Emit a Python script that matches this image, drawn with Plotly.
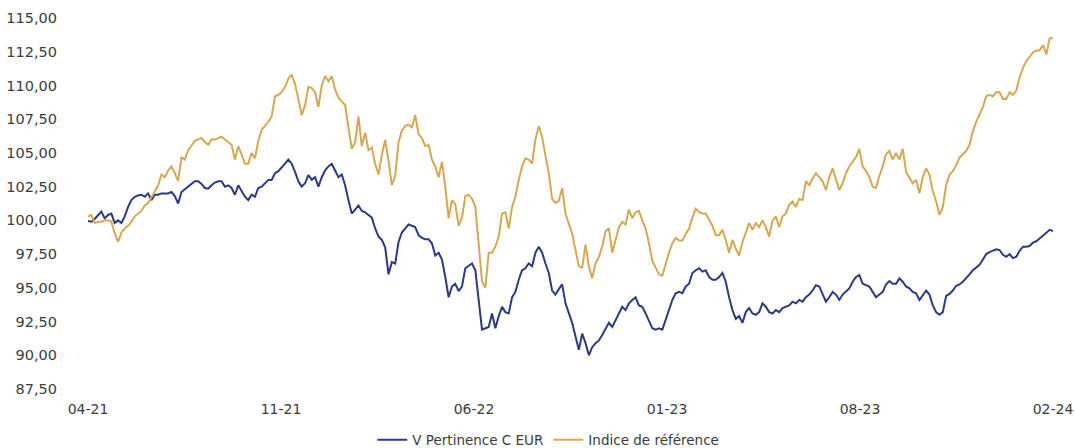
import plotly.graph_objects as go

fund_name = "V Pertinence C EUR"
index_name = "Indice de référence"
tick_labels = ["04-21", "11-21", "06-22", "01-23", "08-23", "02-24"]

fund_values = [
    99.95, 99.9, 100.1, 100.4, 100.65, 100.15, 100.4, 100.5, 99.8, 100.0,
    99.8, 100.3, 101.0, 101.5, 101.75, 101.85, 101.9, 101.75, 102.0, 101.5,
    101.9, 101.9, 102.0, 102.0, 102.0, 102.1, 101.8, 101.25, 102.1, 102.3,
    102.5, 102.7, 102.9, 102.9, 102.7, 102.4, 102.35, 102.6, 102.8, 102.9,
    102.9, 102.5, 102.6, 102.4, 101.9, 102.6, 102.2, 101.75, 101.5, 101.9,
    101.75, 102.4, 102.5, 102.75, 103.0, 103.0, 103.5, 103.65, 103.9, 104.2,
    104.5, 104.2, 103.6, 102.9, 102.5, 102.75, 103.35, 103.0, 103.2, 102.5,
    103.2, 103.7, 104.0, 104.2, 103.7, 103.2, 103.4, 102.6, 101.5, 100.5,
    100.8, 101.1, 100.7, 100.6, 100.4, 100.2, 99.4, 98.8, 98.55, 98.0,
    96.0, 96.9, 96.8, 98.4, 99.1, 99.4, 99.7, 99.6, 99.5, 98.9,
    98.7, 98.6, 98.6, 98.3, 97.4, 97.6, 97.1, 95.8, 94.3, 95.1,
    95.3, 94.75, 95.1, 96.45, 96.6, 96.8, 96.3, 94.3, 91.9, 92.0,
    92.1, 93.1, 92.0, 92.9, 93.6, 93.2, 93.1, 94.3, 94.7, 95.6,
    96.3, 96.45, 96.8, 96.6, 97.6, 98.05, 97.6, 96.8, 96.1, 94.8,
    94.5, 94.9, 95.25, 93.85, 93.2, 92.4, 91.4, 90.4, 91.6, 90.9,
    90.0, 90.6, 90.9, 91.1, 91.5, 91.9, 92.4, 92.1, 92.6, 93.1,
    93.6, 93.35, 93.85, 94.1, 94.3, 93.7, 93.6, 93.1, 92.6, 92.0,
    91.9, 92.0, 91.9, 92.6, 93.35, 94.1, 94.6, 94.7, 94.6, 95.1,
    95.3, 96.1, 96.3, 96.45, 96.2, 96.3, 95.8, 95.6, 95.6, 95.8,
    96.1, 95.45, 94.3, 93.35, 92.7, 92.9, 92.4, 93.2, 93.5, 93.1,
    93.0, 93.2, 93.85, 93.6, 93.2, 93.1, 93.35, 93.2, 93.5, 93.6,
    93.7, 93.97, 93.85, 94.1, 93.97, 94.3, 94.5, 94.8, 95.2, 95.1,
    94.5, 93.97, 94.3, 94.7, 94.5, 94.1, 94.5, 94.7, 94.96, 95.45,
    95.8, 95.95, 95.3, 95.2, 95.1, 94.7, 94.3, 94.5, 94.7, 95.25,
    95.5, 95.3, 95.3, 95.7, 95.45, 95.1, 94.96, 94.7, 94.6, 94.1,
    94.5, 94.8, 94.5, 93.7, 93.2, 93.0, 93.2, 94.4, 94.55, 94.8,
    95.15, 95.25, 95.45, 95.7, 96.0, 96.3, 96.5, 96.7, 97.1, 97.5,
    97.65, 97.75, 97.85, 97.8, 97.45, 97.3, 97.5, 97.2, 97.3, 97.75,
    98.05, 98.05, 98.1, 98.35, 98.45, 98.65, 98.85, 99.1, 99.3, 99.2,
]

index_values = [
    100.27, 100.4, 99.8, 99.9, 99.9, 100.0, 100.0, 99.9, 99.05, 98.4,
    99.1, 99.4, 99.6, 99.9, 100.3, 100.5, 100.7, 101.1, 101.3, 101.7,
    102.1, 102.6, 103.4, 103.2, 103.7, 104.0, 103.5, 102.9, 104.7, 104.5,
    105.2, 105.6, 105.9, 106.0, 106.1, 105.8, 105.6, 106.0, 106.0, 106.1,
    106.2, 106.0, 105.8, 105.6, 104.5, 105.5, 104.9, 104.2, 104.2, 105.0,
    104.6, 105.9, 106.7, 107.0, 107.3, 107.7, 109.2, 109.3, 109.5, 109.9,
    110.5, 110.8, 110.1, 109.0, 107.8, 108.5, 109.9, 109.8, 109.5, 108.4,
    110.0, 110.7, 110.3, 110.7, 109.7, 109.1, 108.8, 108.55, 106.9, 105.3,
    105.8, 107.7, 105.5, 106.5, 105.2, 105.4, 104.2, 103.4, 104.85, 105.96,
    104.4, 102.6, 103.3, 105.8, 106.65, 107.0, 107.1, 106.9, 107.8, 106.4,
    106.1, 105.5, 105.6, 104.5, 104.0, 103.2, 104.35, 102.5, 100.15, 101.5,
    101.2, 99.6, 100.2, 101.8, 101.9, 101.6, 101.0, 98.5, 95.5, 95.0,
    97.6, 97.6, 98.05, 98.8, 100.5, 100.6, 99.4, 101.0, 101.75, 103.0,
    104.0, 104.6, 104.5, 104.2, 106.0, 107.0, 106.2, 104.8, 103.5, 101.6,
    101.3, 101.45, 102.4, 100.5, 99.8, 99.0, 97.8, 96.6, 96.5, 98.2,
    96.6, 95.7, 96.8, 97.3, 98.05, 99.2, 99.4, 97.6, 98.55, 99.5,
    99.9, 99.7, 100.8, 100.15, 100.6, 100.7, 100.0, 99.4, 98.3, 97.0,
    96.5, 96.0, 95.9, 96.8, 97.6, 98.3, 98.7, 98.5, 98.5, 99.0,
    99.4, 100.2, 100.85, 100.6, 100.5, 100.5, 100.1, 99.6, 98.9, 98.9,
    99.3, 98.55, 97.6, 98.55, 97.9, 97.4, 98.4, 99.05, 99.8, 99.3,
    99.8, 99.5, 100.0, 99.5, 98.8, 100.0, 100.3, 99.5, 100.3, 100.5,
    101.15, 101.4, 101.0, 101.6, 101.5, 102.9, 102.6, 103.1, 103.5, 103.2,
    102.9, 102.25, 103.2, 103.85, 103.0, 102.25, 102.75, 103.5, 104.0, 104.35,
    104.7, 105.3, 104.0, 103.65, 103.2, 102.5, 102.4, 103.3, 104.0, 104.9,
    105.15, 104.5, 105.0, 104.5, 105.3, 103.6, 103.2, 102.75, 103.0, 102.0,
    103.2, 103.85, 103.4, 102.2, 101.4, 100.4, 101.0, 102.6, 103.4, 103.65,
    104.1, 104.65, 104.9, 105.15, 105.6, 106.6, 107.3, 107.8, 108.4, 109.2,
    109.3, 109.2, 109.5, 109.5, 109.0, 109.0, 109.5, 109.3, 109.6, 110.6,
    111.3, 111.8, 112.15, 112.45, 112.6, 112.6, 113.0, 112.3, 113.5, 113.5,
]

n = len(fund_values)
steps = list(range(n))
tick_positions = [i * (n - 1) / (len(tick_labels) - 1) for i in range(len(tick_labels))]
y_ticks = [87.5 + 2.5 * i for i in range(12)]
y_tick_text = [f"{v:.2f}".replace(".", ",") for v in y_ticks]

FONT = "DejaVu Sans, sans-serif"
TXT = "#3c3c3c"

fig = go.Figure()
fig.add_trace(go.Scatter(x=steps, y=fund_values, mode="lines", name=fund_name,
                         line=dict(color="#2B3A86", width=2)))
fig.add_trace(go.Scatter(x=steps, y=index_values, mode="lines", name=index_name,
                         line=dict(color="#D6A851", width=2)))

fig.update_layout(
    width=1075, height=448,
    margin=dict(l=88, r=22, t=18, b=59, autoexpand=False),
    paper_bgcolor="white", plot_bgcolor="white",
    font=dict(family=FONT, color=TXT, size=14),
    showlegend=True,
    legend=dict(orientation="h", x=0.477, xanchor="center", y=-0.1375, yanchor="middle",
                font=dict(size=13.5, color=TXT), itemwidth=30, tracegroupgap=0),
)
fig.update_xaxes(range=[0, n - 1], tickmode="array", tickvals=tick_positions, ticktext=tick_labels,
                 showgrid=False, zeroline=False, showline=False, ticks="",
                 ticklabelstandoff=10, tickfont=dict(size=14, color=TXT))
fig.update_yaxes(range=[87.5, 115], tickmode="array", tickvals=y_ticks, ticktext=y_tick_text,
                 showgrid=False, zeroline=False, showline=False, ticks="",
                 ticklabelstandoff=30, tickfont=dict(size=14.5, color=TXT))

fig.write_html("out.html", config={"displayModeBar": False},
               post_script="document.body.style.margin='0px';document.body.style.overflow='hidden';")
